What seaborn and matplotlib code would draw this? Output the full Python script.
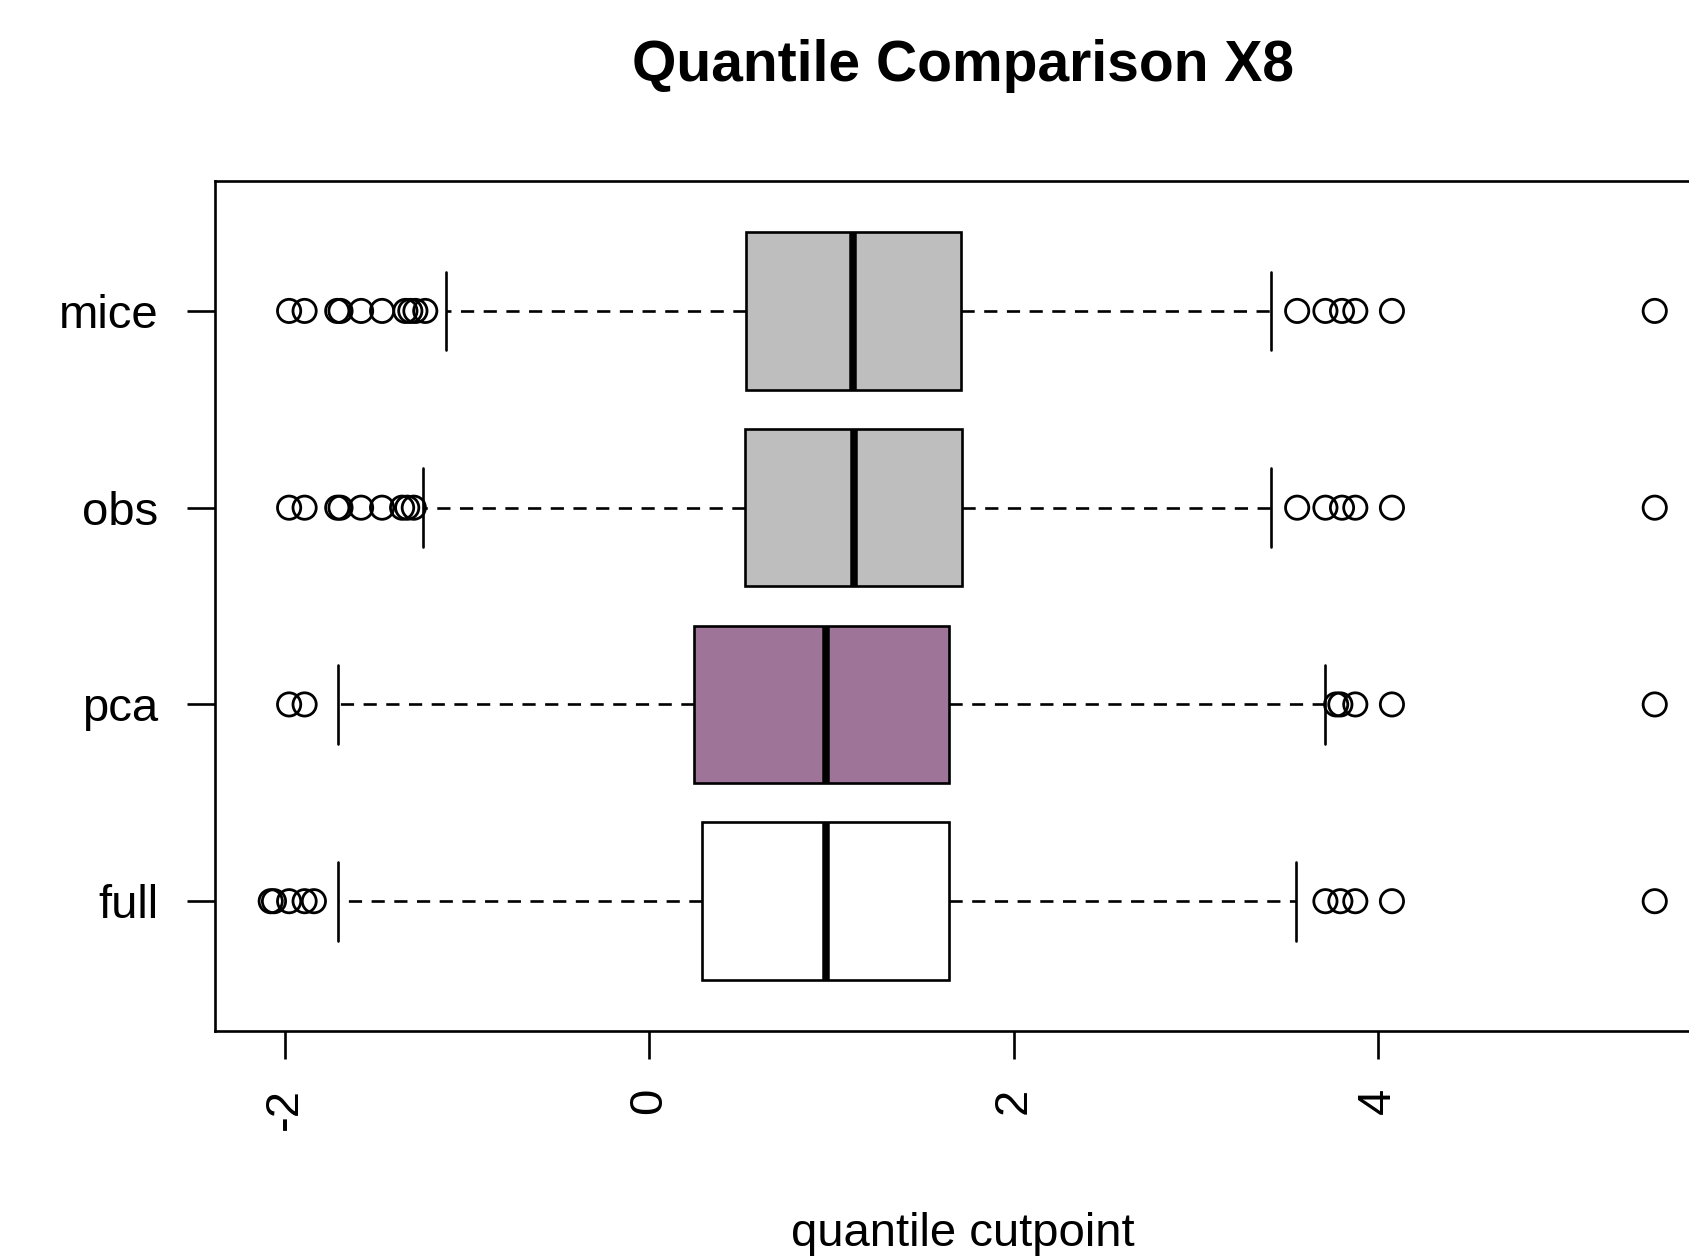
import matplotlib
matplotlib.use("Agg")
import matplotlib.pyplot as plt
import seaborn as sns
import pandas as pd

# Groups, bottom to top
groups = ["full", "pca", "obs", "mice"]
box_colors = ["#FFFFFF", "#9E7498", "#BEBEBE", "#BEBEBE"]

# Five-number summaries per group
q1 = [0.289, 0.248, 0.525, 0.531]
median = [0.973, 0.973, 1.127, 1.121]
q3 = [1.646, 1.646, 1.717, 1.711]
whisker_lo = [-1.707, -1.707, -1.240, -1.115]
whisker_hi = [3.552, 3.711, 3.410, 3.410]

# Points beyond the whiskers
outliers_full = [-2.076, -2.058, -1.975, -1.890, -1.839,
                 3.711, 3.793, 3.875, 4.076, 5.518]
outliers_pca = [-1.975, -1.890,
                3.770, 3.793, 3.875, 4.076, 5.518]
outliers_obs = [-1.975, -1.890, -1.711, -1.693, -1.580, -1.465, -1.355, -1.327, -1.291,
                3.556, 3.711, 3.802, 3.875, 4.076, 5.518]
outliers_mice = [-1.975, -1.890, -1.711, -1.693, -1.580, -1.465, -1.337, -1.310, -1.282, -1.228,
                 3.556, 3.711, 3.802, 3.875, 4.076, 5.518]
outliers = [outliers_full, outliers_pca, outliers_obs, outliers_mice]

x_ticks = [-2, 0, 2, 4]
title = "Quantile Comparison X8"
xlabel = "quantile cutpoint"

sns.set_theme(style="white")
plt.rcParams["font.family"] = ["Liberation Sans", "DejaVu Sans"]
plt.rcParams["axes.unicode_minus"] = False
plt.rcParams["text.color"] = "black"
plt.rcParams["xtick.color"] = "black"
plt.rcParams["ytick.color"] = "black"
plt.rcParams["xtick.labelcolor"] = "black"
plt.rcParams["ytick.labelcolor"] = "black"

fig = plt.figure(figsize=(16.89, 12.6), dpi=100)
ax = fig.add_axes([0.1275, 0.1817, 0.885, 0.6746])

positions = list(range(1, len(groups) + 1))
stats = [
    dict(label=g, q1=a, med=m, q3=b, whislo=lo, whishi=hi, fliers=[])
    for g, a, m, b, lo, hi in zip(groups, q1, median, q3, whisker_lo, whisker_hi)
]

lw = 1.9
bp = ax.bxp(
    stats, positions=positions, vert=False, widths=0.8, patch_artist=True,
    showfliers=False,
    boxprops=dict(linewidth=lw, edgecolor="black"),
    medianprops=dict(linewidth=5.4, color="black", solid_capstyle="butt"),
    whiskerprops=dict(linewidth=lw, color="black", linestyle=(0, (5.0, 3.6))),
    capprops=dict(linewidth=lw, color="black"),
    capwidths=0.4,
)
for patch, c in zip(bp["boxes"], box_colors):
    patch.set_facecolor(c)

# Outlying points as open circles
flier_df = pd.DataFrame(
    [(v, pos) for pos, vals in zip(positions, outliers) for v in vals],
    columns=["value", "pos"],
)
sns.scatterplot(
    data=flier_df, x="value", y="pos", ax=ax, s=280, marker="o",
    facecolors="none", edgecolor="black", linewidth=2.0, zorder=4, legend=False,
)

all_vals = [v for vals in outliers for v in vals] + whisker_lo + whisker_hi
lo, hi = min(all_vals), max(all_vals)
pad = 0.04 * (hi - lo)
ax.set_xlim(lo - pad, hi + pad)
ypad = 0.04 * len(groups)
ax.set_ylim(0.5 - ypad, len(groups) + 0.5 + ypad)

ax.set_yticks(positions)
ax.set_yticklabels(groups, fontsize=34)
ax.set_xticks(x_ticks)
ax.set_xticklabels([str(t) for t in x_ticks], fontsize=34, rotation=90)
ax.tick_params(axis="both", which="major", length=20, width=lw, color="black",
               labelcolor="black", direction="out", left=True, bottom=True)
ax.tick_params(axis="y", pad=21)
ax.tick_params(axis="x", pad=21)
ax.set_xlabel("")
ax.set_ylabel("")

for sp in ax.spines.values():
    sp.set_visible(True)
    sp.set_color("black")
    sp.set_linewidth(lw)

fig.text(0.57, 0.948, title, ha="center", va="center", fontsize=41,
         fontweight="bold", color="black")
fig.text(0.57, 0.0206, xlabel, ha="center", va="center", fontsize=34, color="black")

fig.savefig("out.png", dpi=100, facecolor="white")
